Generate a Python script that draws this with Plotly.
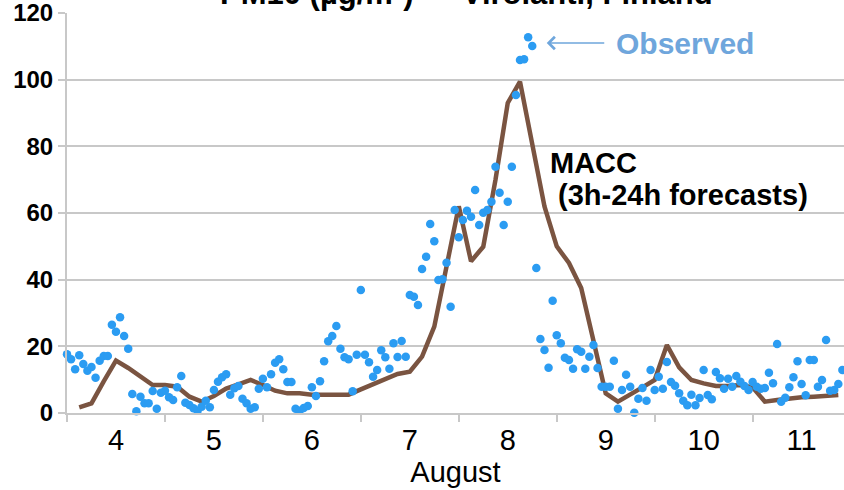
import plotly.graph_objects as go

# Observed PM10, hourly from 4 Aug 00:00
obs_start_day = 4.0
obs_values = [
    # 4 Aug
    17.6, 16.1, 13.1, 17.3, 14.7, 12.7, 13.8, 10.6, 15.7, 17.1, 17.1, 26.5,
    24.4, 28.7, 23.1, 19.3, 5.7, 0.5, 4.9, 2.9, 2.9, 6.6, 1.3, 6.1,
    # 5 Aug
    6.7, 4.7, 3.9, 7.7, 11.1, 3.1, 2.4, 1.4, 0.7, 1.9, 3.7, 1.7,
    6.9, 9.4, 10.7, 11.6, 5.5, 7.4, 8.1, 4.3, 2.9, 1.3, 1.7, 7.3,
    # 6 Aug
    10.3, 7.7, 11.6, 15.1, 16.1, 13.1, 9.3, 9.3, 1.3, 0.7, 1.5, 2.1,
    7.7, 5.1, 9.5, 15.5, 21.5, 23.1, 26.1, 19.3, 16.7, 16.1, 6.5, 17.5,
    # 7 Aug
    36.9, 17.5, 15.2, 10.9, 12.9, 18.8, 16.7, 13.3, 20.9, 16.8, 21.6, 16.9,
    35.4, 34.9, 32.4, 43.2, 46.9, 56.7, 51.5, 39.9, 40.1, 45.1, 31.9, 60.9,
    # 8 Aug
    52.7, 57.9, 60.7, 58.9, 66.9, 56.4, 60.1, 60.9, 63.4, 73.9, 66.1, 56.4,
    63.4, 73.9, 95.4, 105.9, 106.1, 112.7, 110.1, 43.5, 22.2, 18.9, 13.6, 33.7,
    # 9 Aug
    23.3, 20.9, 16.6, 15.9, 13.3, 19.1, 18.4, 13.3, 16.9, 20.4, 13.5, 7.9,
    7.9, 7.9, 15.7, 1.3, 6.9, 11.5, 7.9, 0.1, 4.3, 7.5, 3.7, 12.9,
    # 10 Aug
    6.9, 10.9, 7.3, 15.3, 9.3, 8.2, 5.9, 3.7, 2.3, 5.5, 2.3, 4.5,
    12.9, 5.4, 4.1, 12.3, 10.4, 7.3, 10.3, 7.9, 11.1, 9.4, 8.1, 6.9,
    # 11 Aug
    9.3, 7.9, 7.3, 7.5, 12.1, 8.9, 20.7, 3.4, 4.6, 7.7, 10.7, 15.5,
    8.7, 5.3, 15.9, 15.9, 7.9, 9.9, 21.9, 6.7, 6.9, 8.7, 12.9,
]
obs_days = [obs_start_day + i / 24 for i in range(len(obs_values))]

# MACC forecast, 3-hourly from 4 Aug 03:00
macc_start_day = 4.0 + 3 / 24
macc_values = [
    1.7, 2.9, 9.5, 15.7, 13.5, 11.1, 8.4, 8.4,
    7.9, 4.9, 3.4, 5.1, 7.3, 8.6, 9.9, 8.4,
    6.7, 5.9, 5.9, 5.5, 5.5, 5.4, 5.5, 7.1,
    8.6, 10.1, 11.7, 12.4, 16.9, 25.9, 44.0, 62.0,
    45.5, 49.9, 70.0, 93.0, 99.4, 81.0, 62.0, 50.0,
    45.0, 37.5, 21.0, 5.9, 3.4, 5.7, 7.7, 9.9,
    20.4, 13.7, 9.9, 8.9, 8.1, 8.1, 8.4, 7.7,
    3.4, 3.9, 4.4, 4.7, 4.9, 5.2, 5.4,
]
macc_days = [macc_start_day + k / 8 for k in range(len(macc_values))]

day_labels = ["4", "5", "6", "7", "8", "9", "10", "11"]
day_label_pos = [4.5 + i for i in range(len(day_labels))]
y_ticks = [0, 20, 40, 60, 80, 100, 120]

FONT = "Liberation Sans, Arial, sans-serif"
grid = "#c8c8c8"

fig = go.Figure()
fig.add_trace(go.Scatter(
    x=macc_days, y=macc_values, mode="lines",
    line=dict(color="#7a5441", width=4.5),
    hoverinfo="skip", showlegend=False,
))
fig.add_trace(go.Scatter(
    x=obs_days, y=obs_values, mode="markers",
    marker=dict(color="#2b9cf2", size=8.5, line=dict(width=0)),
    cliponaxis=False, showlegend=False,
))

fig.update_layout(
    width=844, height=490,
    margin=dict(l=67, r=0, t=13, b=77, autoexpand=False),
    paper_bgcolor="white", plot_bgcolor="white",
    font=dict(family=FONT, color="black"),
    showlegend=False,
)
fig.update_xaxes(
    range=[4.0, 11.933], automargin=False,
    tickmode="array", tickvals=day_label_pos, ticktext=day_labels,
    ticks="", tickfont=dict(size=29, family=FONT),
    minor=dict(tickmode="linear", tick0=4, dtick=1, ticks="outside",
               ticklen=7, tickcolor=grid, tickwidth=1.5, showgrid=False),
    showgrid=False, zeroline=False,
    showline=True, linecolor=grid, linewidth=2,
    title=dict(text="August", font=dict(size=29, family=FONT), standoff=4),
)
fig.update_yaxes(
    range=[0, 120], tickmode="array", tickvals=y_ticks, automargin=False,
    ticks="outside", ticklen=7, tickcolor=grid, tickwidth=1.5,
    ticklabeloverflow="allow",
    tickfont=dict(size=24, family=FONT, weight="bold"),
    showgrid=True, gridcolor=grid, gridwidth=1.5, zeroline=False,
    showline=True, linecolor=grid, linewidth=2,
)

# Title (partially cut off at the top in the original)
fig.add_annotation(
    text="PM10 (µg/m³) — Virolahti, Finland", xref="paper", yref="paper",
    x=0.514, y=1.048, xanchor="center", yanchor="middle", showarrow=False,
    font=dict(size=31, family=FONT, weight="bold", color="black"),
)
# Observed label with arrow
fig.add_annotation(
    x=8.898, y=111, xref="x", yref="y", text="", showarrow=True,
    ax=59, ay=0, arrowhead=4, arrowsize=1.6, arrowwidth=1.5,
    arrowcolor="#6fa6dc",
)
fig.add_annotation(
    x=9.582, y=111, xref="x", yref="y", text="Observed", showarrow=False,
    xanchor="left", yanchor="middle",
    font=dict(size=30, family=FONT, weight="bold", color="#6fa6dc"),
)
# MACC label
fig.add_annotation(
    x=8.909, y=75, xref="x", yref="y",
    text="MACC", showarrow=False,
    xanchor="left", yanchor="middle", align="left",
    font=dict(size=29, family=FONT, weight="bold", color="black"),
)
fig.add_annotation(
    x=8.99, y=65.4, xref="x", yref="y",
    text="(3h-24h forecasts)", showarrow=False,
    xanchor="left", yanchor="middle", align="left",
    font=dict(size=29, family=FONT, weight="bold", color="black"),
)

fig.write_html(
    "out.html",
    config={"displayModeBar": False},
    post_script="document.body.style.margin='0px';",
)
